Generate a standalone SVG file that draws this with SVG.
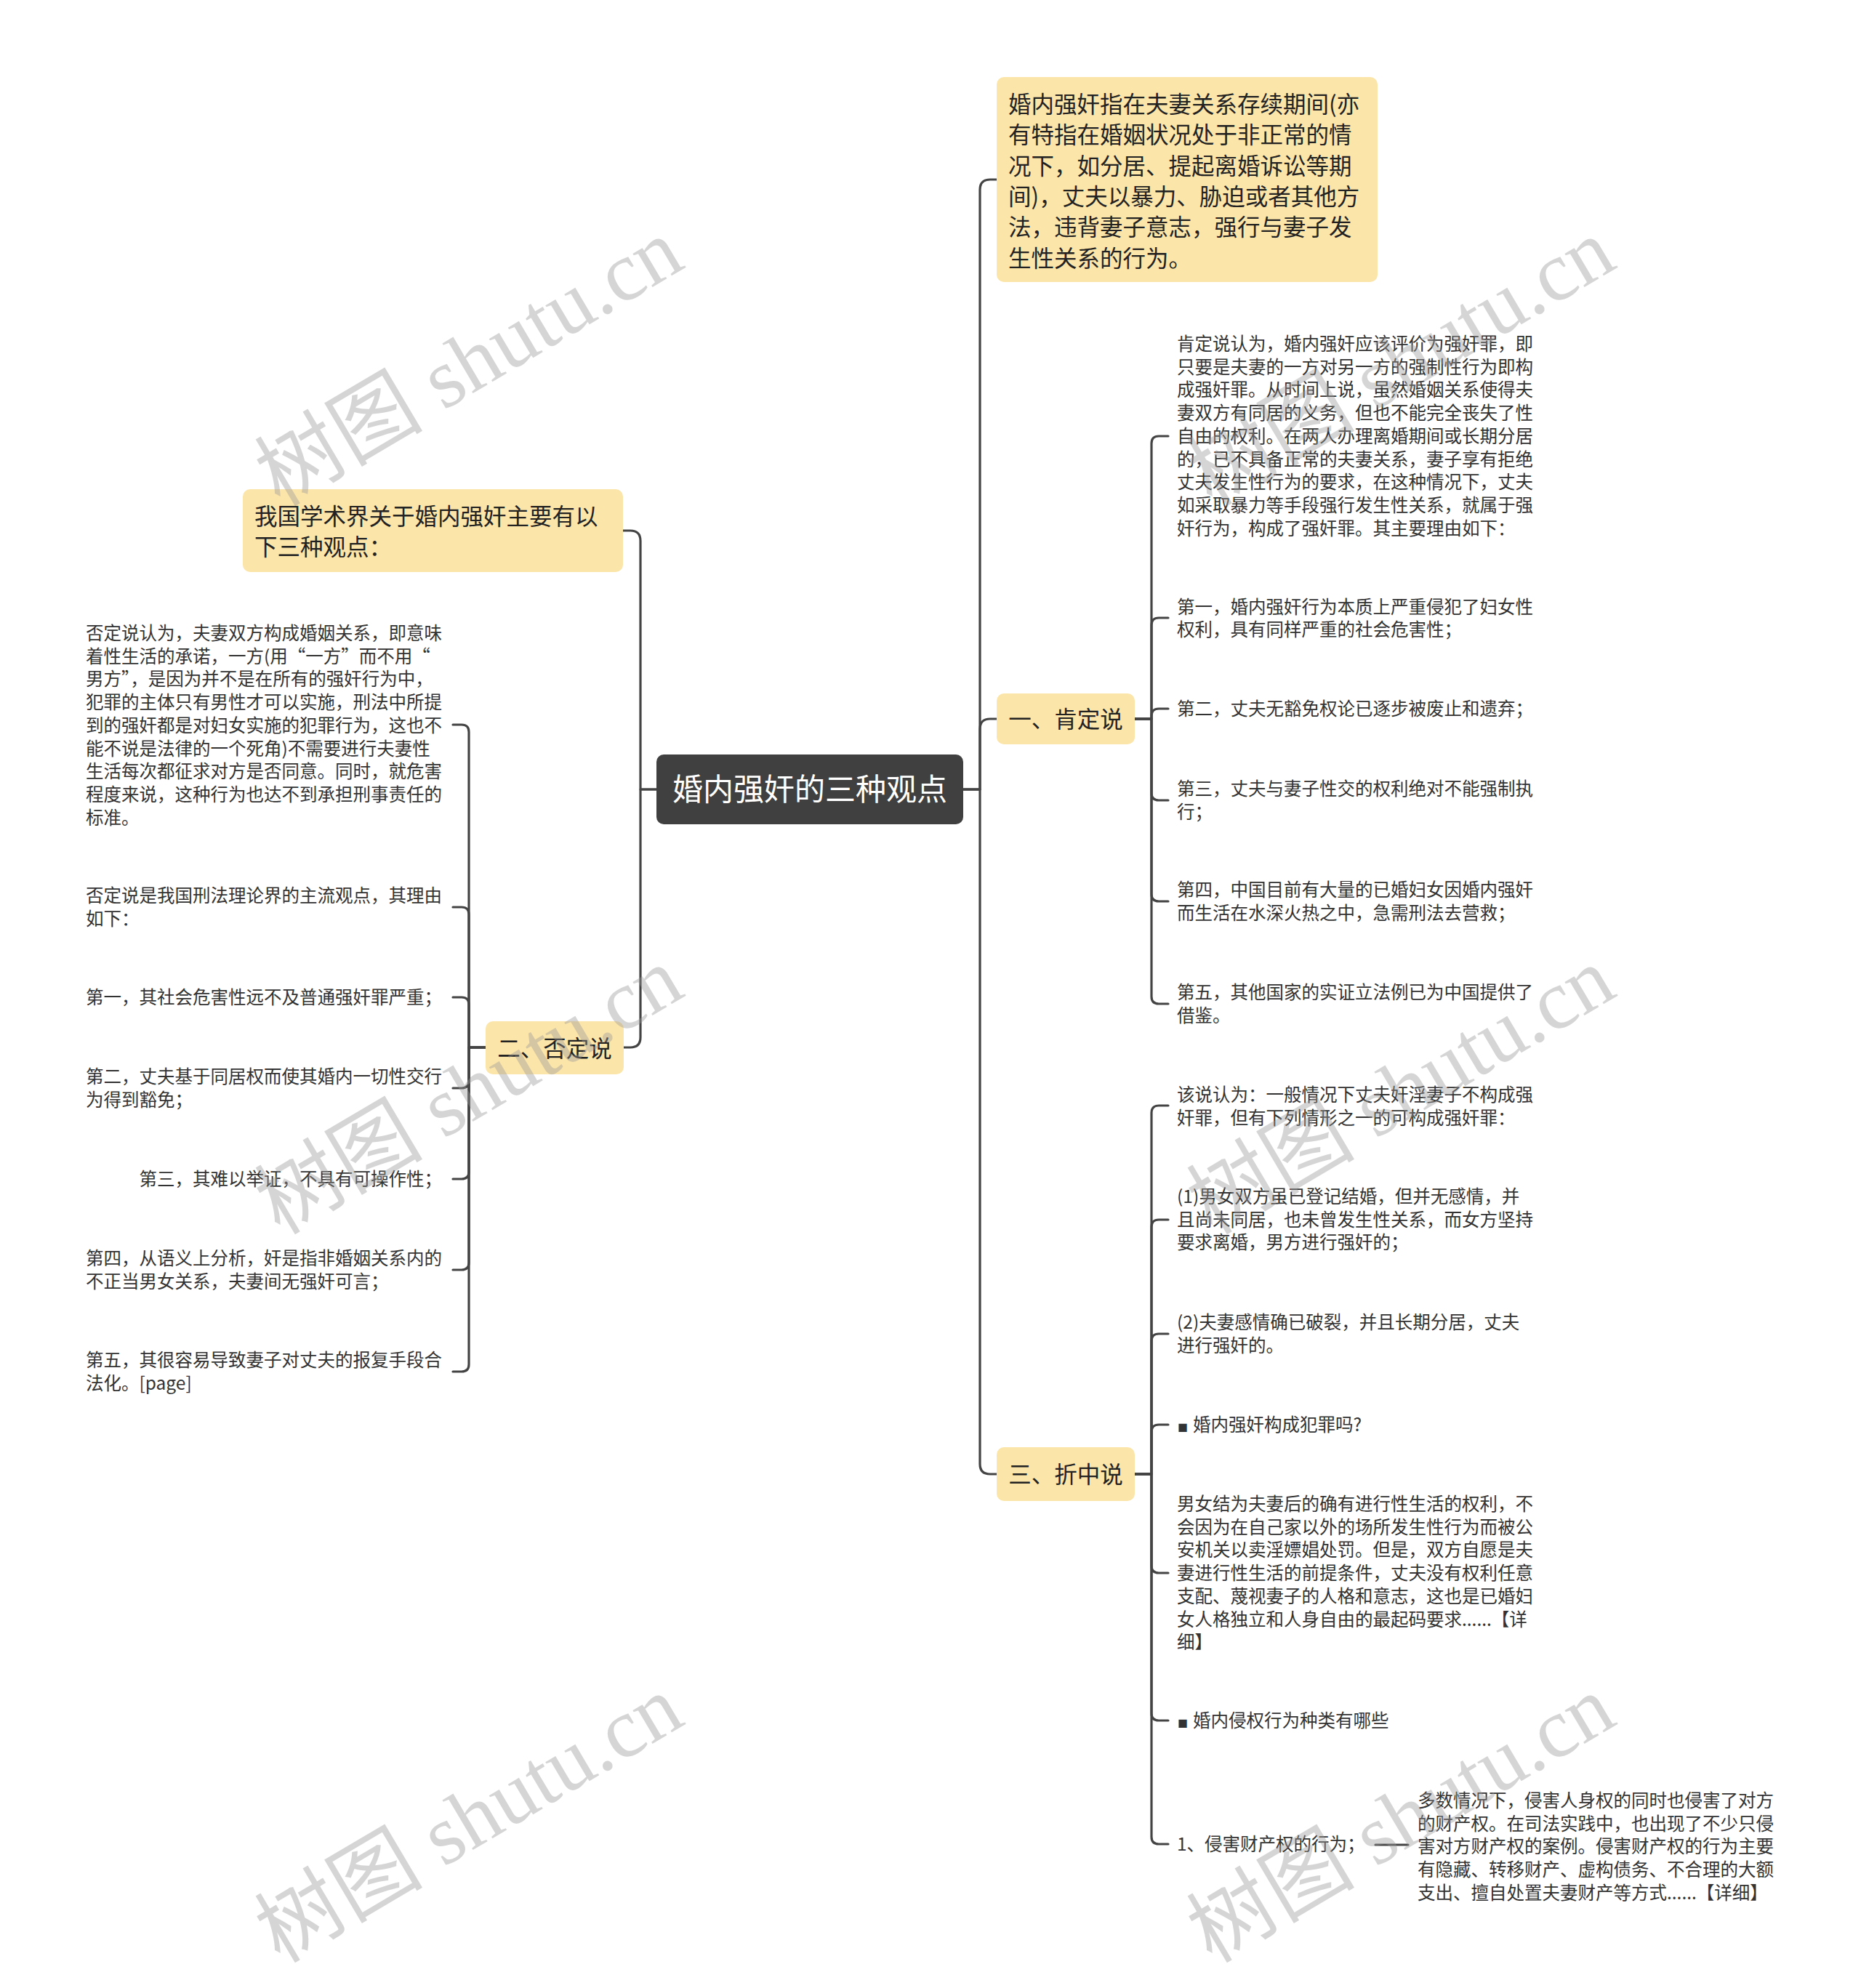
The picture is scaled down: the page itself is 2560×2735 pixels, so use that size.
<svg xmlns="http://www.w3.org/2000/svg" width="2560" height="2735" viewBox="0 0 2560 2735">
<defs>
<style>
.bg{fill:#ffffff}
.root{fill:#404040}
.main{fill:#fce5a9}
.rootT{font-family:"Noto Sans CJK SC","Liberation Sans",sans-serif;font-size:42px;fill:#ffffff;text-anchor:middle}
.mainT{font-family:"Noto Sans CJK SC","Liberation Sans",sans-serif;font-size:31.5px;fill:#222222}
.leafT{font-family:"Noto Sans CJK SC","Liberation Sans",sans-serif;font-size:24.5px;fill:#333333}
.ln{fill:none;stroke:#444444;stroke-width:3.2;stroke-linecap:round;stroke-linejoin:round}
.wm{font-family:"Liberation Serif","Noto Sans CJK SC",serif;font-size:116px;fill:#999999;opacity:0.4}
</style>
</defs>
<rect class="bg" x="0" y="0" width="2560" height="2735"/>

<g id="connectors">
<path class="ln" d="M1325,1086 H1348 V261 Q1348,247 1362,247 H1371"/>
<path class="ln" d="M1325,1086 H1348 V1003 Q1348,989 1362,989 H1371"/>
<path class="ln" d="M1325,1086 H1348 V2014 Q1348,2028 1362,2028 H1371"/>
<path class="ln" d="M903,1086 H881 V744 Q881,730 867,730 H857"/>
<path class="ln" d="M903,1086 H881 V1427 Q881,1441 867,1441 H858"/>
<path class="ln" d="M1561,989 H1584 V610 Q1584,600 1594,600 H1607"/>
<path class="ln" d="M1561,989 H1584 V860 Q1584,850 1594,850 H1607"/>
<path class="ln" d="M1561,989 H1584 V985 Q1584,975 1594,975 H1607"/>
<path class="ln" d="M1561,989 H1584 V1091 Q1584,1101 1594,1101 H1607"/>
<path class="ln" d="M1561,989 H1584 V1230 Q1584,1240 1594,1240 H1607"/>
<path class="ln" d="M1561,989 H1584 V1371 Q1584,1381 1594,1381 H1607"/>
<path class="ln" d="M1561,2028 H1584 V1531 Q1584,1521 1594,1521 H1607"/>
<path class="ln" d="M1561,2028 H1584 V1688 Q1584,1678 1594,1678 H1607"/>
<path class="ln" d="M1561,2028 H1584 V1845 Q1584,1835 1594,1835 H1607"/>
<path class="ln" d="M1561,2028 H1584 V1970 Q1584,1960 1594,1960 H1607"/>
<path class="ln" d="M1561,2028 H1584 V2154 Q1584,2164 1594,2164 H1607"/>
<path class="ln" d="M1561,2028 H1584 V2357 Q1584,2367 1594,2367 H1607"/>
<path class="ln" d="M1561,2028 H1584 V2527 Q1584,2537 1594,2537 H1607"/>
<path class="ln" d="M1892,2538 H1937"/>
<path class="ln" d="M668,1441 H645 V1007 Q645,997 635,997 H623"/>
<path class="ln" d="M668,1441 H645 V1258 Q645,1248 635,1248 H623"/>
<path class="ln" d="M668,1441 H645 V1382 Q645,1372 635,1372 H623"/>
<path class="ln" d="M668,1441 H645 V1487 Q645,1497 635,1497 H623"/>
<path class="ln" d="M668,1441 H645 V1612 Q645,1622 635,1622 H623"/>
<path class="ln" d="M668,1441 H645 V1737 Q645,1747 635,1747 H623"/>
<path class="ln" d="M668,1441 H645 V1877 Q645,1887 635,1887 H623"/>
</g>

<g id="root">
<rect class="root" x="903" y="1038" width="422" height="96" rx="10"/>
<text class="rootT" x="1114" y="1101">婚内强奸的三种观点</text>
</g>

<g id="n-def">
<rect class="main" x="1371" y="106" width="524" height="282" rx="10"/>
<text class="mainT">
<tspan x="1387" y="155">婚内强奸指在夫妻关系存续期间(亦</tspan>
<tspan x="1387" y="197.3">有特指在婚姻状况处于非正常的情</tspan>
<tspan x="1387" y="239.6">况下，如分居、提起离婚诉讼等期</tspan>
<tspan x="1387" y="281.9">间)，丈夫以暴力、胁迫或者其他方</tspan>
<tspan x="1387" y="324.2">法，违背妻子意志，强行与妻子发</tspan>
<tspan x="1387" y="366.5">生性关系的行为。</tspan>
</text>
</g>

<g id="n-ken">
<rect class="main" x="1371" y="954" width="190" height="70" rx="10"/>
<text class="mainT" x="1466" y="1001" text-anchor="middle">一、肯定说</text>
</g>

<g id="n-ken-1">
<text class="leafT">
<tspan x="1619" y="482">肯定说认为，婚内强奸应该评价为强奸罪，即</tspan>
<tspan x="1619" y="513.7">只要是夫妻的一方对另一方的强制性行为即构</tspan>
<tspan x="1619" y="545.4">成强奸罪。从时间上说，虽然婚姻关系使得夫</tspan>
<tspan x="1619" y="577.1">妻双方有同居的义务，但也不能完全丧失了性</tspan>
<tspan x="1619" y="608.8">自由的权利。在两人办理离婚期间或长期分居</tspan>
<tspan x="1619" y="640.5">的，已不具备正常的夫妻关系，妻子享有拒绝</tspan>
<tspan x="1619" y="672.2">丈夫发生性行为的要求，在这种情况下，丈夫</tspan>
<tspan x="1619" y="703.9">如采取暴力等手段强行发生性关系，就属于强</tspan>
<tspan x="1619" y="735.6">奸行为，构成了强奸罪。其主要理由如下：</tspan>
</text>
</g>
<g id="n-ken-2">
<text class="leafT">
<tspan x="1619" y="843.5">第一，婚内强奸行为本质上严重侵犯了妇女性</tspan>
<tspan x="1619" y="875.2">权利，具有同样严重的社会危害性；</tspan>
</text>
</g>
<g id="n-ken-3">
<text class="leafT" x="1619" y="984">第二，丈夫无豁免权论已逐步被废止和遗弃；</text>
</g>
<g id="n-ken-4">
<text class="leafT">
<tspan x="1619" y="1094">第三，丈夫与妻子性交的权利绝对不能强制执</tspan>
<tspan x="1619" y="1125.7">行；</tspan>
</text>
</g>
<g id="n-ken-5">
<text class="leafT">
<tspan x="1619" y="1233">第四，中国目前有大量的已婚妇女因婚内强奸</tspan>
<tspan x="1619" y="1264.7">而生活在水深火热之中，急需刑法去营救；</tspan>
</text>
</g>
<g id="n-ken-6">
<text class="leafT">
<tspan x="1619" y="1374">第五，其他国家的实证立法例已为中国提供了</tspan>
<tspan x="1619" y="1405.7">借鉴。</tspan>
</text>
</g>

<g id="n-zhe">
<rect class="main" x="1371" y="1991" width="190" height="74" rx="10"/>
<text class="mainT" x="1466" y="2040" text-anchor="middle">三、折中说</text>
</g>
<g id="n-zhe-1">
<text class="leafT">
<tspan x="1619" y="1515">该说认为：一般情况下丈夫奸淫妻子不构成强</tspan>
<tspan x="1619" y="1546.7">奸罪，但有下列情形之一的可构成强奸罪：</tspan>
</text>
</g>
<g id="n-zhe-2">
<text class="leafT">
<tspan x="1619" y="1655">(1)男女双方虽已登记结婚，但并无感情，并</tspan>
<tspan x="1619" y="1686.7">且尚未同居，也未曾发生性关系，而女方坚持</tspan>
<tspan x="1619" y="1718.4">要求离婚，男方进行强奸的；</tspan>
</text>
</g>
<g id="n-zhe-3">
<text class="leafT">
<tspan x="1619" y="1828">(2)夫妻感情确已破裂，并且长期分居，丈夫</tspan>
<tspan x="1619" y="1859.7">进行强奸的。</tspan>
</text>
</g>
<g id="n-zhe-4">
<text class="leafT" y="1969"><tspan x="1620" font-size="14">■</tspan><tspan x="1641">婚内强奸构成犯罪吗?</tspan></text>
</g>
<g id="n-zhe-5">
<text class="leafT">
<tspan x="1619" y="2078">男女结为夫妻后的确有进行性生活的权利，不</tspan>
<tspan x="1619" y="2109.7">会因为在自己家以外的场所发生性行为而被公</tspan>
<tspan x="1619" y="2141.4">安机关以卖淫嫖娼处罚。但是，双方自愿是夫</tspan>
<tspan x="1619" y="2173.1">妻进行性生活的前提条件，丈夫没有权利任意</tspan>
<tspan x="1619" y="2204.8">支配、蔑视妻子的人格和意志，这也是已婚妇</tspan>
<tspan x="1619" y="2236.5">女人格独立和人身自由的最起码要求......【详</tspan>
<tspan x="1619" y="2268.2">细】</tspan>
</text>
</g>
<g id="n-zhe-6">
<text class="leafT" y="2376"><tspan x="1620" font-size="14">■</tspan><tspan x="1641">婚内侵权行为种类有哪些</tspan></text>
</g>
<g id="n-zhe-7">
<text class="leafT" x="1619" y="2546">1、侵害财产权的行为；</text>
</g>
<g id="n-zhe-7-1">
<text class="leafT">
<tspan x="1950" y="2486">多数情况下，侵害人身权的同时也侵害了对方</tspan>
<tspan x="1950" y="2517.7">的财产权。在司法实践中，也出现了不少只侵</tspan>
<tspan x="1950" y="2549.4">害对方财产权的案例。侵害财产权的行为主要</tspan>
<tspan x="1950" y="2581.1">有隐藏、转移财产、虚构债务、不合理的大额</tspan>
<tspan x="1950" y="2612.8">支出、擅自处置夫妻财产等方式......【详细】</tspan>
</text>
</g>

<g id="n-intro">
<rect class="main" x="334" y="673" width="523" height="114" rx="10"/>
<text class="mainT">
<tspan x="350" y="722">我国学术界关于婚内强奸主要有以</tspan>
<tspan x="350" y="764">下三种观点：</tspan>
</text>
</g>

<g id="n-fou">
<rect class="main" x="668" y="1405" width="190" height="73" rx="10"/>
<text class="mainT" x="763" y="1453.5" text-anchor="middle">二、否定说</text>
</g>
<g id="n-fou-1">
<text class="leafT">
<tspan x="118" y="880">否定说认为，夫妻双方构成婚姻关系，即意味</tspan>
<tspan x="118" y="911.7">着性生活的承诺，一方(用“一方”而不用“</tspan>
<tspan x="118" y="943.4">男方”，是因为并不是在所有的强奸行为中，</tspan>
<tspan x="118" y="975.1">犯罪的主体只有男性才可以实施，刑法中所提</tspan>
<tspan x="118" y="1006.8">到的强奸都是对妇女实施的犯罪行为，这也不</tspan>
<tspan x="118" y="1038.5">能不说是法律的一个死角)不需要进行夫妻性</tspan>
<tspan x="118" y="1070.2">生活每次都征求对方是否同意。同时，就危害</tspan>
<tspan x="118" y="1101.9">程度来说，这种行为也达不到承担刑事责任的</tspan>
<tspan x="118" y="1133.6">标准。</tspan>
</text>
</g>
<g id="n-fou-2">
<text class="leafT">
<tspan x="118" y="1241">否定说是我国刑法理论界的主流观点，其理由</tspan>
<tspan x="118" y="1272.7">如下：</tspan>
</text>
</g>
<g id="n-fou-3">
<text class="leafT" x="118" y="1381">第一，其社会危害性远不及普通强奸罪严重；</text>
</g>
<g id="n-fou-4">
<text class="leafT">
<tspan x="118" y="1490">第二，丈夫基于同居权而使其婚内一切性交行</tspan>
<tspan x="118" y="1521.7">为得到豁免；</tspan>
</text>
</g>
<g id="n-fou-5">
<text class="leafT" x="191.5" y="1631">第三，其难以举证，不具有可操作性；</text>
</g>
<g id="n-fou-6">
<text class="leafT">
<tspan x="118" y="1740">第四，从语义上分析，奸是指非婚姻关系内的</tspan>
<tspan x="118" y="1771.7">不正当男女关系，夫妻间无强奸可言；</tspan>
</text>
</g>
<g id="n-fou-7">
<text class="leafT">
<tspan x="118" y="1880">第五，其很容易导致妻子对丈夫的报复手段合</tspan>
<tspan x="118" y="1911.7">法化。[page]</tspan>
</text>
</g>

<g id="watermarks">
<text class="wm" x="385" y="698" transform="rotate(-30.6 385 698)">树图 shutu.cn</text>
<text class="wm" x="1667" y="698" transform="rotate(-30.6 1667 698)">树图 shutu.cn</text>
<text class="wm" x="385" y="1700" transform="rotate(-30.6 385 1700)">树图 shutu.cn</text>
<text class="wm" x="1667" y="1700" transform="rotate(-30.6 1667 1700)">树图 shutu.cn</text>
<text class="wm" x="385" y="2702" transform="rotate(-30.6 385 2702)">树图 shutu.cn</text>
<text class="wm" x="1667" y="2702" transform="rotate(-30.6 1667 2702)">树图 shutu.cn</text>
</g>
</svg>
